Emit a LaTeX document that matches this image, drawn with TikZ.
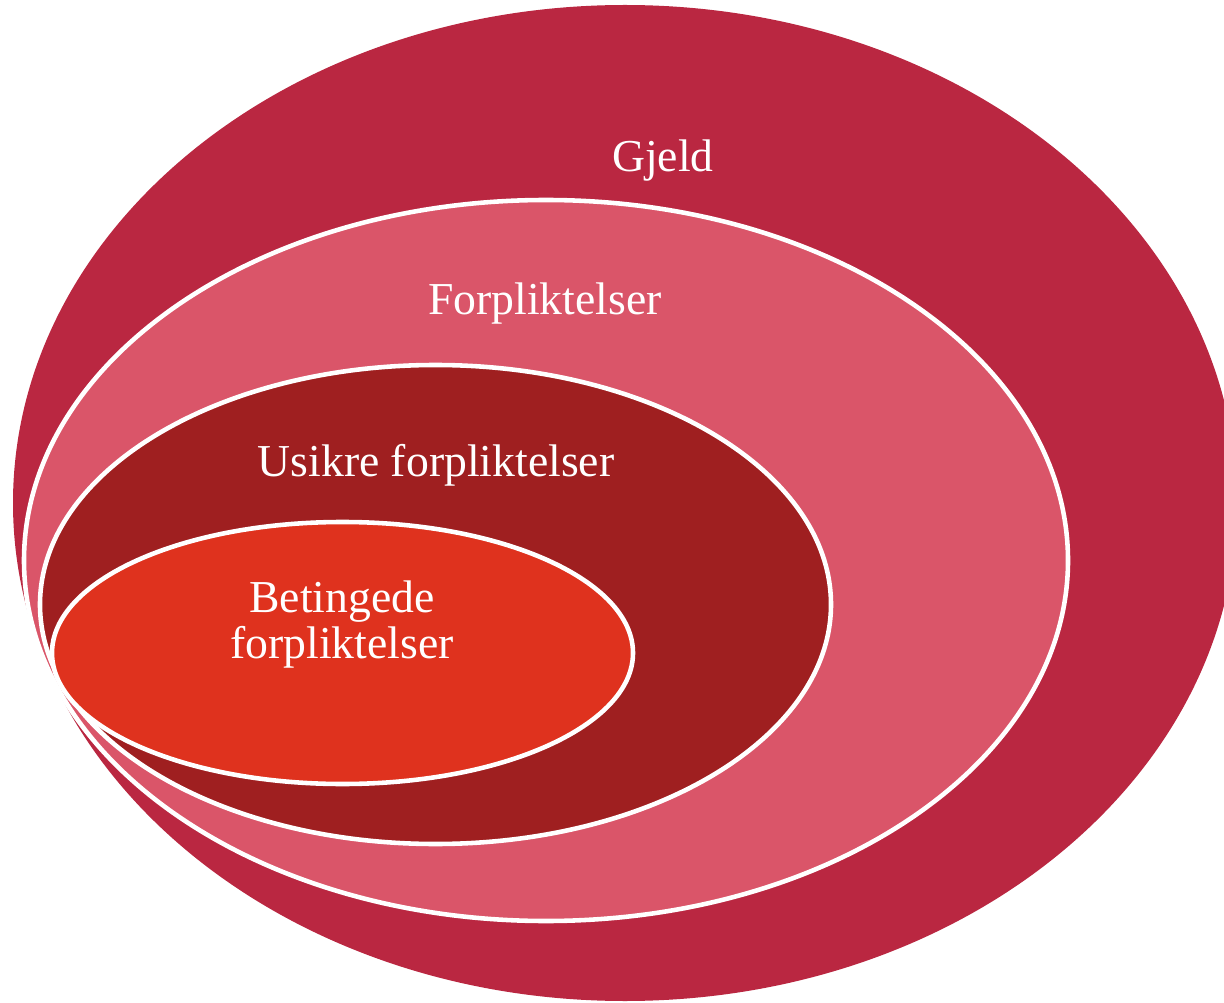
\documentclass[tikz,border=0pt]{standalone}
\usepackage{fontspec}
\setmainfont{Liberation Serif}
\definecolor{gjeldc}{HTML}{BA2741}
\definecolor{forpc}{HTML}{DA5569}
\definecolor{usikc}{HTML}{9F1F20}
\definecolor{betic}{HTML}{DF321E}
\begin{document}
\begin{tikzpicture}[x=0.02cm,y=-0.02cm,
  ring/.style={draw=white,line width=2.6pt},
  lbl/.style={text=white,font=\fontsize{26}{26}\selectfont,anchor=base,align=center,inner sep=0pt}]
\useasboundingbox (0,0) rectangle (1224,1003);
\clip (0,0) rectangle (1224,1003);
\fill[gjeldc] (625,503) ellipse [x radius=612, y radius=498];
\fill[forpc,ring] (546,560.5) ellipse [x radius=522, y radius=360.5];
\fill[usikc,ring] (435.5,604.5) ellipse [x radius=395.5, y radius=239.5];
\fill[betic,ring] (342.5,653) ellipse [x radius=290.5, y radius=131];
\node[lbl] (gjeld) at (663,172) {Gjeld};
\node[lbl] (forp) at (545,315) {Forpliktelser};
\node[lbl] (usik) at (436,477) {Usikre forpliktelser};
\node[lbl] (beti1) at (342,612) {Betingede};
\node[lbl] (beti2) at (342,658) {forpliktelser};
\end{tikzpicture}
\end{document}
